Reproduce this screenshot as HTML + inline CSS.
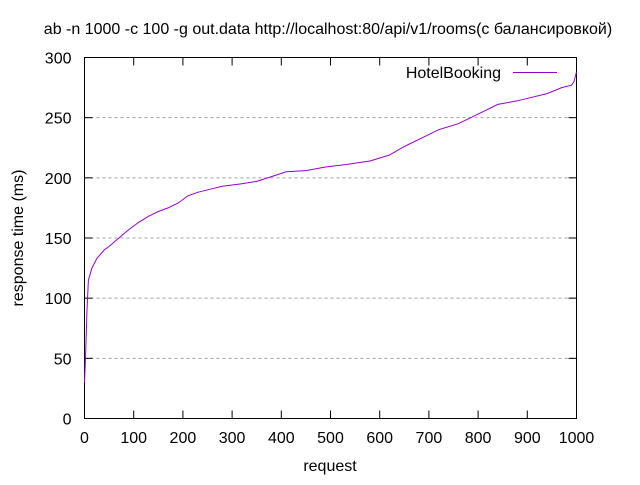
<!DOCTYPE html>
<html><head><meta charset="utf-8"><style>
body{margin:0;background:#fff}
svg text{font-family:"Liberation Sans","DejaVu Sans",sans-serif;font-size:16px;fill:#000}
</style></head><body>
<svg id="chart" width="640" height="480">
<text x="328" y="34" text-anchor="middle">ab -n 1000 -c 100 -g out.data http://localhost:80/api/v1/rooms(с балансировкой)</text>
<text x="330" y="471" text-anchor="middle">request</text>
<text transform="translate(23,238) rotate(-90)" text-anchor="middle">response time (ms)</text>
<g id="grid"></g>
<g id="ticks"></g>
<rect x="84.5" y="57.5" width="492" height="361" fill="none" stroke="#000"/>
<path id="series" fill="none" stroke="#9400d3" stroke-width="1"/>
<g>
<text x="501" y="78" text-anchor="end">HotelBooking</text>
<line x1="513" y1="72.5" x2="557" y2="72.5" stroke="#9400d3"/>
</g>
</svg>
<script>
const xTicks=[0,100,200,300,400,500,600,700,800,900,1000];
const yTicks=[0,50,100,150,200,250,300];
const requests=[0,2,5,8,15,25,40,50,70,90,110,130,150,170,190,210,230,260,280,320,350,380,410,450,490,530,580,620,650,690,720,760,800,840,880,940,970,990,995,1000];
const times=[30,50,90,115,125,133,140,143,150,157,163,168,172,175,179,185,188,191,193,195,197,201,205,206,209,211,214,219,226,234,240,245,253,261,264,270,275,277,280,288];
const X0=84.5,X1=576.5,Y0=418.5,Y1=57.5;
const sx=v=>X0+(v/1000)*(X1-X0);
const sy=v=>Y0-(v/300)*(Y0-Y1);
const NS="http://www.w3.org/2000/svg";
const grid=document.getElementById('grid'),ticks=document.getElementById('ticks');
function mk(tag,attrs,parent){const e=document.createElementNS(NS,tag);for(const k in attrs)e.setAttribute(k,attrs[k]);parent.appendChild(e);return e;}
yTicks.forEach(v=>{
 const y=Math.round(sy(v))+0.5-0.5;
 if(v>0&&v<300){const g=mk('line',{x1:X0,x2:X1,y1:sy(v),y2:sy(v),stroke:'#a0a0a0','stroke-dasharray':'3,3'},grid);
 
 }
 mk('line',{x1:X0,x2:X0+8,y1:sy(v),y2:sy(v),stroke:'#000'},ticks);
 mk('line',{x1:X1,x2:X1-8,y1:sy(v),y2:sy(v),stroke:'#000'},ticks);
 const t=mk('text',{x:X0-13,y:sy(v)+6,'text-anchor':'end'},ticks);t.textContent=v;
 
 
});
xTicks.forEach(v=>{
 mk('line',{x1:sx(v),x2:sx(v),y1:Y0,y2:Y0-8,stroke:'#000'},ticks);
 mk('line',{x1:sx(v),x2:sx(v),y1:Y1,y2:Y1+8,stroke:'#000'},ticks);
 const t=mk('text',{x:sx(v),y:443,'text-anchor':'middle'},ticks);t.textContent=v;
 
 
});
document.getElementById('series').setAttribute('d',requests.map((r,i)=>(i?'L':'M')+sx(r).toFixed(1)+','+sy(times[i]).toFixed(1)).join(''));
</script>
</body></html>
